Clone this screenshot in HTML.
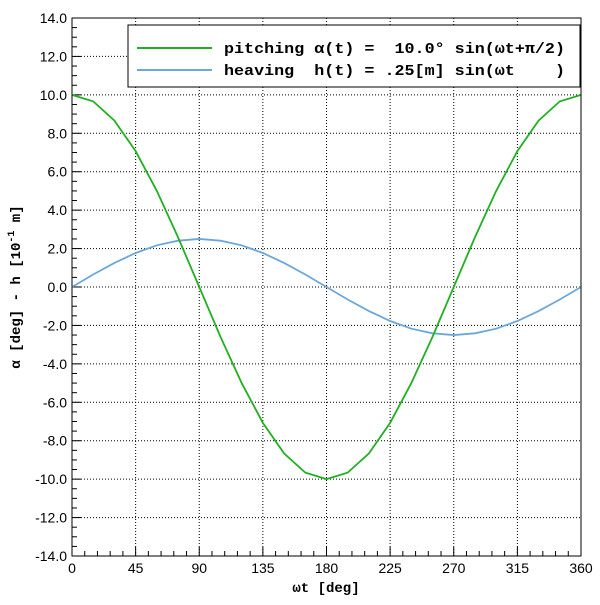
<!DOCTYPE html>
<html><head><meta charset="utf-8"><style>
html,body{margin:0;padding:0;background:#fff;}
svg text{font-family:"Liberation Sans",sans-serif;}
.mono{font-family:"Liberation Mono",monospace;font-weight:bold;}
</style></head><body>
<svg id="chart" width="600" height="600" viewBox="0 0 600 600" xmlns="http://www.w3.org/2000/svg">
<rect x="0" y="0" width="600" height="600" fill="#fff"/>
<g id="grid"></g>
<g id="ticks"></g>
<g id="series"></g>
<rect x="72" y="18" width="509" height="538" fill="none" stroke="#000" stroke-width="1"/>
<text class="mono" x="326" y="592" font-size="14" text-anchor="middle">ωt [deg]</text>
<text class="mono" x="20" y="287" font-size="14" text-anchor="middle" transform="rotate(-90 20 287)">α [deg] - h [10<tspan dy="-6" font-size="10">-1</tspan><tspan dy="6"> m]</tspan></text>
<g>
<rect x="128" y="25" width="452" height="62" fill="#fff" stroke="#000" stroke-width="1"/>
<line x1="137" y1="48" x2="212" y2="48" stroke="#22b022" stroke-width="2"/>
<text class="mono" x="224" y="53" font-size="15" textLength="341" lengthAdjust="spacingAndGlyphs" xml:space="preserve">pitching α(t) =  10.0° sin(ωt+π/2)</text>
<line x1="137" y1="70" x2="212" y2="70" stroke="#6aa8dc" stroke-width="2"/>
<text class="mono" x="224" y="75" font-size="15" textLength="341" lengthAdjust="spacingAndGlyphs" xml:space="preserve">heaving  h(t) = .25[m] sin(ωt    )</text>
</g>
</svg>
<script>
const angles=[0,15,30,45,60,75,90,105,120,135,150,165,180,195,210,225,240,255,270,285,300,315,330,345,360];
const pitching=[10,9.66,8.66,7.07,5,2.59,0,-2.59,-5,-7.07,-8.66,-9.66,-10,-9.66,-8.66,-7.07,-5,-2.59,0,2.59,5,7.07,8.66,9.66,10];
const heaving=[0,0.65,1.25,1.77,2.17,2.41,2.5,2.41,2.17,1.77,1.25,0.65,0,-0.65,-1.25,-1.77,-2.17,-2.41,-2.5,-2.41,-2.17,-1.77,-1.25,-0.65,0];
const xTicks=[0,45,90,135,180,225,270,315,360];
const yTicks=[-14,-12,-10,-8,-6,-4,-2,0,2,4,6,8,10,12,14];
const X0=72,X1=581,Y0=556,Y1=18;
const sx=v=>X0+(v-0)/(360-0)*(X1-X0);
const sy=v=>Y0-(v+14)/28*(Y0-Y1);
const NS="http://www.w3.org/2000/svg";
const grid=document.getElementById('grid'),ticks=document.getElementById('ticks'),series=document.getElementById('series');
function mk(tag,attrs,parent){const e=document.createElementNS(NS,tag);for(const k in attrs)e.setAttribute(k,attrs[k]);parent.appendChild(e);return e;}
xTicks.forEach(v=>{
  const x=sx(v);
  if(v>0&&v<360){const g=mk('line',{x1:x,y1:Y1,x2:x,y2:Y0,stroke:'#000','stroke-dasharray':'1,2','stroke-width':1},grid);
  
  }
  const t=mk('text',{x:x,y:Y0+17,'font-size':14,'text-anchor':'middle'},ticks);t.textContent=String(v);
  
  
});
for(let v=0;v<=360;v+=9){const x=sx(v);const maj=v%45===0;
  const l=mk('line',{x1:x,y1:Y0,x2:x,y2:Y0-(maj?9:5),stroke:'#000'},ticks);
  
  }
yTicks.forEach(v=>{
  const y=sy(v);
  if(v>-14&&v<14){const g=mk('line',{x1:X0,y1:y,x2:X1,y2:y,stroke:'#000','stroke-dasharray':'1,2','stroke-width':1},grid);
  
  }
  const t=mk('text',{x:67,y:y+5,'font-size':14,'text-anchor':'end'},ticks);t.textContent=v.toFixed(1);
  
  
});
for(let i=0;i<=56;i++){const v=-14+i*0.5;const y=sy(v);const maj=i%4===0;
  const l=mk('line',{x1:X0,y1:y,x2:X0+(maj?9:5),y2:y,stroke:'#000'},ticks);
  
  }
function line(vals,color,name){
  const p=mk('polyline',{points:angles.map((a,i)=>sx(a)+','+sy(vals[i])).join(' '),fill:'none',stroke:color,'stroke-width':1.8},series);
  
  
}
line(heaving,'#6aa8dc','heaving-line');
line(pitching,'#22b022','pitching-line');
</script>
</body></html>
